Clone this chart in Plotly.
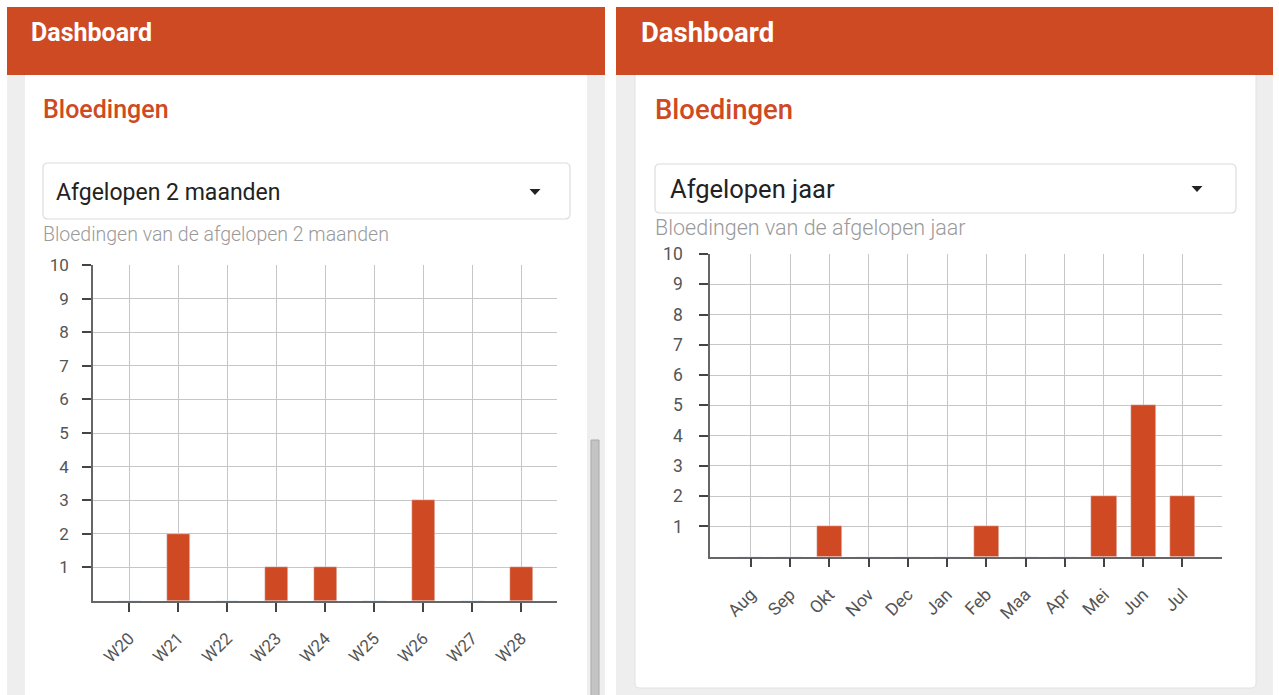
import plotly.graph_objects as go

W, H = 1279, 695
OFF = 10  # vertical calibration of the page

# ---- data ----
weeks = ["W20", "W21", "W22", "W23", "W24", "W25", "W26", "W27", "W28"]
weeks_counts = [0, 2, 0, 1, 1, 0, 3, 0, 1]
months = ["Aug", "Sep", "Okt", "Nov", "Dec", "Jan", "Feb", "Maa", "Apr", "Mei", "Jun", "Jul"]
months_counts = [0, 0, 1, 0, 0, 0, 1, 0, 0, 2, 5, 2]
y_ticks = [1, 2, 3, 4, 5, 6, 7, 8, 9, 10]

ORANGE = "#CE4A23"
BAR = "#CF4A22"
GRID = "#c6c6c6"
AXIS = "#666666"
FONT = "Roboto"


def px(x):
    return x / W


def py(y):
    return 1 - (y - OFF) / (H - OFF)


def rect(x0, y0, x1, y1, fill, line=None, lw=0):
    return dict(type="rect", xref="paper", yref="paper", x0=px(x0), x1=px(x1),
                y0=py(y1), y1=py(y0), fillcolor=fill, layer="below",
                line=dict(color=line or fill, width=lw))


def rrect(x0, y0, x1, y1, r, fill, line, lw=1):
    rx, ry = r / W, r / H
    X0, X1, Y0, Y1 = px(x0), px(x1), py(y0), py(y1)
    p = (f"M {X0+rx},{Y0} L {X1-rx},{Y0} Q {X1},{Y0} {X1},{Y0-ry} "
         f"L {X1},{Y1+ry} Q {X1},{Y1} {X1-rx},{Y1} L {X0+rx},{Y1} "
         f"Q {X0},{Y1} {X0},{Y1+ry} L {X0},{Y0-ry} Q {X0},{Y0} {X0+rx},{Y0} Z")
    return dict(type="path", xref="paper", yref="paper", path=p, fillcolor=fill,
                layer="below", line=dict(color=line, width=lw))


def tri(cx, cy, w=11, h=6, color="#222"):
    p = (f"M {px(cx-w/2)},{py(cy-h/2)} L {px(cx+w/2)},{py(cy-h/2)} "
         f"L {px(cx)},{py(cy+h/2)} Z")
    return dict(type="path", xref="paper", yref="paper", path=p, fillcolor=color,
                layer="above", line=dict(color=color, width=0))


def text(x, y, s, size, color, weight="normal", xanchor="left"):
    return dict(x=px(x), y=py(y), xref="paper", yref="paper", text=s, showarrow=False,
                xanchor=xanchor, yanchor="middle", xshift=-2,
                font=dict(family=FONT, size=size, color=color, weight=weight))


fig = go.Figure()
fig.add_trace(go.Bar(x=weeks, y=weeks_counts, marker_color=BAR, width=0.46,
                     xaxis="x", yaxis="y", showlegend=False))
fig.add_trace(go.Bar(x=months, y=months_counts, marker_color=BAR, width=0.64,
                     xaxis="x2", yaxis="y2", showlegend=False))

shapes = [
    # left screen
    rect(7, 75, 605, 700, "#eeeeee"),
    rect(25, 75, 587, 700, "#ffffff"),
    rect(591, 440, 599, 700, "#c4c4c4", "#a8a8a8", 1),
    rect(7, 7, 605, 75, ORANGE),
    rrect(43, 163, 570, 219, 5, "#ffffff", "#dcdcdc", 1.2),
    # right screen
    rect(616, 75, 1273, 700, "#eeeeee"),
    rrect(635, 60, 1256, 688, 5, "#ffffff", "#e2e2e2", 1),
    rect(616, 7, 1273, 75, ORANGE),
    rrect(655, 164, 1236, 213, 5, "#ffffff", "#dcdcdc", 1.2),
    tri(535, 192),
    tri(1197, 189),
]

annotations = [
    text(31, 33, "Dashboard", 25, "#ffffff", "bold"),
    text(641, 33, "Dashboard", 27.5, "#ffffff", "bold"),
    text(43, 109, "Bloedingen", 25, ORANGE, 500),
    text(655, 109, "Bloedingen", 27.5, ORANGE, 500),
    text(56, 192, "Afgelopen 2 maanden", 23, "#222222"),
    text(670, 189, "Afgelopen jaar", 25.5, "#222222"),
    text(43, 234, "Bloedingen van de afgelopen 2 maanden", 19.5, "#9a9a9a", 300),
    text(655, 227, "Bloedingen van de afgelopen jaar", 21.5, "#9a9a9a", 300),
]

xcommon = dict(type="category", showgrid=True, gridcolor=GRID, gridwidth=1,
               showline=True, linecolor=AXIS, linewidth=1.5, ticks="outside",
               ticklen=9, tickcolor="#444", tickwidth=1.5, tickangle=-45,
               ticklabelstandoff=10, zeroline=False, fixedrange=True,
               tickfont=dict(family=FONT, size=17, color="#555"))
ycommon = dict(range=[0, 10], tickvals=y_ticks, showgrid=True, gridcolor=GRID,
               gridwidth=1, showline=True, linecolor=AXIS, linewidth=1.5,
               ticks="outside", ticklen=9, tickcolor="#444", tickwidth=1.5,
               zeroline=False, fixedrange=True, ticklabelstandoff=10,
               tickfont=dict(family=FONT, size=17, color="#555"))

fig.update_layout(
    width=W, height=H, margin=dict(l=0, r=0, t=0, b=0),
    paper_bgcolor="#ffffff", plot_bgcolor="rgba(0,0,0,0)",
    bargap=0, showlegend=False,
    xaxis=dict(xcommon, domain=[px(93), px(557)], range=[-0.74, 8.73], anchor="y"),
    yaxis=dict(ycommon, domain=[py(601), py(265)], anchor="x"),
    xaxis2=dict(xcommon, domain=[px(710), px(1221.7)], range=[-1.04, 12.0], anchor="y2",
                tickfont=dict(family=FONT, size=17.5, color="#555")),
    yaxis2=dict(ycommon, domain=[py(556.7), py(254)], anchor="x2", ticklabelstandoff=13,
                tickfont=dict(family=FONT, size=17.5, color="#555")),
    shapes=shapes, annotations=annotations,
)

fig.write_html(
    "out.html",
    config={"displayModeBar": False},
    post_script=("document.documentElement.style.margin='0';"
                 "document.body.style.margin='0';document.body.style.padding='0';"
                 "document.body.style.overflow='hidden';"),
)
